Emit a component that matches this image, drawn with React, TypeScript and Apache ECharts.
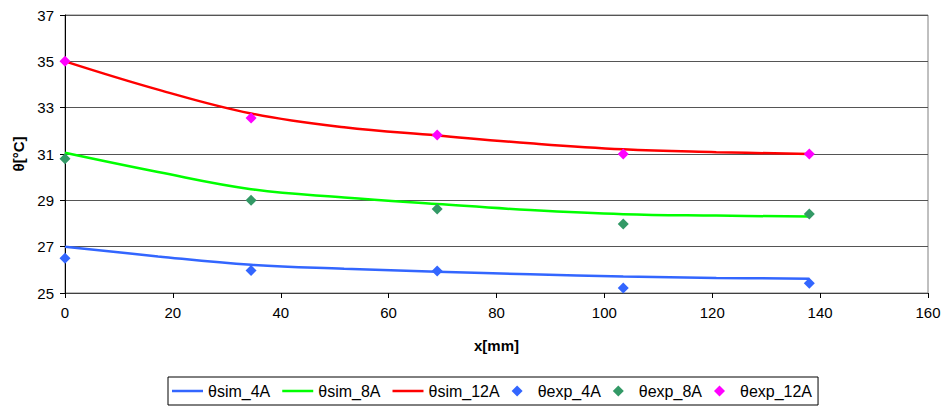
import React, { useEffect, useRef } from "react";
import * as echarts from "echarts";

const simX = [0, 17.25, 34.5, 51.75, 69, 86.25, 103.5, 120.75, 138];
const sim4A = [27.0, 26.58, 26.22, 26.05, 25.92, 25.81, 25.71, 25.65, 25.62];
const sim8A = [31.05, 30.22, 29.48, 29.12, 28.84, 28.58, 28.4, 28.34, 28.3];
const sim12A = [35.0, 33.78, 32.75, 32.15, 31.8, 31.46, 31.2, 31.08, 31.0];

const expX = [0, 34.5, 69, 103.5, 138];
const exp4A = [26.5, 25.97, 25.95, 25.22, 25.42];
const exp8A = [30.8, 29.0, 28.63, 27.98, 28.41];
const exp12A = [35.0, 32.55, 31.82, 31.0, 31.0];

const xTicks = { min: 0, max: 160, interval: 20 };
const yTicks = { min: 25, max: 37, interval: 2 };

const FONT = "'Liberation Sans', Arial, sans-serif";

const pairs = (xs: number[], ys: number[]) => xs.map((x, i) => [x, ys[i]]);

const LINE_ICON = "path://M0,0 L31,0 L31,2.5 L0,2.5 Z";
const DIAMOND_ICON = "path://M5,0 L10,5 L5,10 L0,5 Z";

export default function App() {
  const ref = useRef<HTMLDivElement>(null);
  useEffect(() => {
    document.body.style.margin = "0";
    if (!ref.current) return;
    const chart = echarts.init(ref.current, undefined, { renderer: "svg" });
    const lineS = (name: string, ys: number[], color: string) => ({
      name,
      type: "line",
      data: pairs(simX, ys),
      smooth: 0.4,
      symbol: "none",
      lineStyle: { color, width: 2.5 },
      itemStyle: { color },
      z: 2,
    });
    const scatS = (name: string, ys: number[], color: string) => ({
      name,
      type: "scatter",
      data: pairs(expX, ys),
      symbol: "diamond",
      symbolSize: 11,
      itemStyle: { color, opacity: 1 },
      z: 3,
    });
    chart.setOption({
      animation: false,
      backgroundColor: "#ffffff",
      textStyle: { fontFamily: FONT },
      grid: {
        left: 65,
        right: 16,
        top: 15,
        bottom: 115,
        show: true,
        borderColor: "#808080",
        borderWidth: 1,
      },
      legend: {
        left: 168,
        top: 377,
        itemWidth: 31,
        itemHeight: 11,
        itemGap: 12,
        symbolKeepAspect: true,
        padding: [6, 6, 6, 4],
        borderColor: "#000",
        borderWidth: 1,
        textStyle: { fontSize: 16, color: "#000", fontFamily: FONT },
        data: [
          { name: "θsim_4A", icon: LINE_ICON },
          { name: "θsim_8A", icon: LINE_ICON },
          { name: "θsim_12A", icon: LINE_ICON },
          { name: "θexp_4A", icon: DIAMOND_ICON },
          { name: "θexp_8A", icon: DIAMOND_ICON },
          { name: "θexp_12A", icon: DIAMOND_ICON },
        ],
      },
      xAxis: {
        type: "value",
        min: xTicks.min,
        max: xTicks.max,
        interval: xTicks.interval,
        name: "x[mm]",
        nameLocation: "middle",
        nameGap: 45,
        nameTextStyle: { fontSize: 15, fontWeight: "bold", color: "#000", fontFamily: FONT },
        axisLine: { lineStyle: { color: "#404040", width: 1 } },
        axisTick: { show: true, length: 5, lineStyle: { color: "#000" } },
        axisLabel: { fontSize: 15, color: "#000", margin: 12, fontFamily: FONT },
        splitLine: { show: false },
      },
      yAxis: {
        type: "value",
        min: yTicks.min,
        max: yTicks.max,
        interval: yTicks.interval,
        name: "θ[°C]",
        nameLocation: "middle",
        nameGap: 38,
        nameTextStyle: { fontSize: 15, fontWeight: "bold", color: "#000", fontFamily: FONT },
        axisLine: { show: true, lineStyle: { color: "#000", width: 1 } },
        axisTick: { show: true, length: 5, lineStyle: { color: "#000" } },
        axisLabel: { fontSize: 15, color: "#000", margin: 11, fontFamily: FONT },
        splitLine: { show: true, lineStyle: { color: "#555555", width: 1 } },
      },
      series: [
        lineS("θsim_4A", sim4A, "#3366ff"),
        lineS("θsim_8A", sim8A, "#00ff00"),
        lineS("θsim_12A", sim12A, "#ff0000"),
        scatS("θexp_4A", exp4A, "#3366ff"),
        scatS("θexp_8A", exp8A, "#339966"),
        scatS("θexp_12A", exp12A, "#ff00ff"),
      ],
    });
    return () => chart.dispose();
  }, []);
  return <div ref={ref} style={{ width: 944, height: 408 }} />;
}
